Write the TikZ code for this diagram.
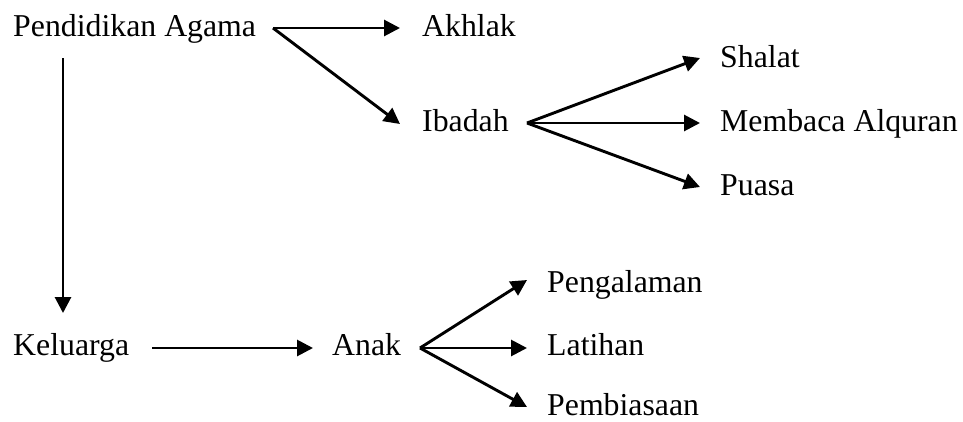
\documentclass[tikz,border=0pt]{standalone}
\usepackage{fontspec}
\setmainfont{Liberation Serif}
\usetikzlibrary{arrows.meta}
\begin{document}
\begin{tikzpicture}[x=1pt,y=-1pt,
  lbl/.style={anchor=base west, inner sep=0pt, font=\fontsize{31.8}{32}\selectfont},
  arr/.style={line width=2.9pt, -{Triangle[length=16pt,width=16pt]}}]
\useasboundingbox (0,0) rectangle (963,421);
\node[lbl] (pa) at (13,36) {Pendidikan Agama};
\node[lbl] (ak) at (422,36) {Akhlak};
\node[lbl] (ib) at (422,131) {Ibadah};
\node[lbl] (sh) at (720,67) {Shalat};
\node[lbl] (ma) at (720,131) {Membaca Alquran};
\node[lbl] (pu) at (720,195) {Puasa};
\node[lbl] (ke) at (13,355) {Keluarga};
\node[lbl] (an) at (332,355) {Anak};
\node[lbl] (pe) at (547,292) {Pengalaman};
\node[lbl] (la) at (547,355) {Latihan};
\node[lbl] (pb) at (547,415) {Pembiasaan};
\coordinate (pao) at ([shift={(260pt,8pt)}]pa.base west);
\draw[arr] (pao) -- ([shift={(-22pt,8pt)}]ak.base west);
\draw[arr] (pao) -- ([shift={(-22pt,7pt)}]ib.base west);
\draw[arr] ([shift={(50pt,-22pt)}]pa.base west) -- ([shift={(50pt,42pt)}]ke.base west);
\coordinate (ibo) at ([shift={(105pt,8pt)}]ib.base west);
\draw[arr] (ibo) -- ([shift={(-20pt,9pt)}]sh.base west);
\draw[arr] (ibo) -- ([shift={(-20pt,8pt)}]ma.base west);
\draw[arr] (ibo) -- ([shift={(-20pt,8pt)}]pu.base west);
\draw[arr] ([shift={(139pt,7pt)}]ke.base west) -- ([shift={(-19pt,7pt)}]an.base west);
\coordinate (ano) at ([shift={(88pt,7pt)}]an.base west);
\draw[arr] (ano) -- ([shift={(-20pt,12pt)}]pe.base west);
\draw[arr] (ano) -- ([shift={(-20pt,7pt)}]la.base west);
\draw[arr] (ano) -- ([shift={(-20pt,8pt)}]pb.base west);
\end{tikzpicture}
\end{document}
